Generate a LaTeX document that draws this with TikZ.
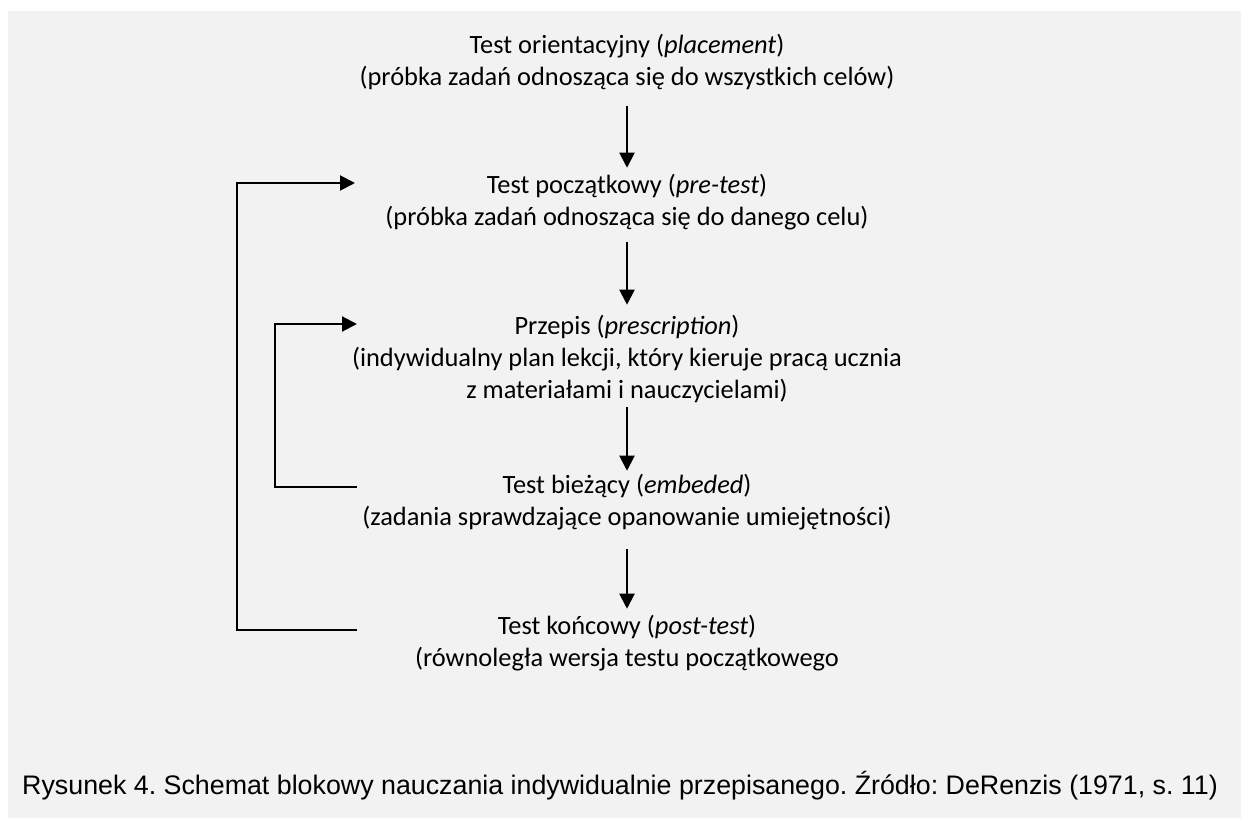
\documentclass[tikz,border=0pt]{standalone}
\usepackage{fontspec}
\setmainfont{Carlito}
\newfontfamily\capfont{Liberation Sans}
\usepackage{xcolor}
\usetikzlibrary{arrows.meta}
\definecolor{bggray}{HTML}{F2F2F2}
\frenchspacing

\begin{document}
\begin{tikzpicture}[x=1pt,y=-1pt,
  stage/.style={align=center,inner sep=0pt,font=\fontsize{26.4}{32.3}\selectfont},
  flow/.style={line width=2pt,-{Triangle[length=15pt,width=15pt]}},
  feedback/.style={line width=2pt}]
  \fill[white] (0,0) rectangle (1241,818);
  \fill[bggray] (8,11) rectangle (1241,818);
  % etapy
  \node[stage] (placement) at (627,62) {Test orientacyjny (\textit{placement})\\(próbka zadań odnosząca się do wszystkich celów)};
  \node[stage] (pretest) at (627,202) {Test początkowy (\textit{pre-test})\\(próbka zadań odnosząca się do danego celu)};
  \node[stage] (prescription) at (627,359) {Przepis (\textit{prescription})\\(indywidualny plan lekcji, który kieruje pracą ucznia\\z materiałami i nauczycielami)};
  \node[stage] (embedded) at (627,502) {Test bieżący (\textit{embeded})\\(zadania sprawdzające opanowanie umiejętności)};
  \node[stage] (posttest) at (627,643) {Test końcowy (\textit{post-test})\\(równoległa wersja testu początkowego};
  % strzałki w dół
  \draw[flow,shorten <=16pt,shorten >=6pt] (placement) -- (pretest);
  \draw[flow,shorten <=12pt,shorten >=10pt] (pretest) -- (prescription);
  \draw[flow,shorten <=4pt,shorten >=3pt] (prescription) -- (embedded);
  \draw[flow,shorten <=19pt,shorten >=6pt] (embedded) -- (posttest);
  % pętle zwrotne
  \coordinate (post-out) at (357,630);
  \coordinate (pre-in) at (355,183);
  \coordinate (emb-out) at (357,487);
  \coordinate (presc-in) at (357,324);
  \draw[flow] (post-out) -- ++(-120,0) |- (pre-in);
  \draw[flow] (emb-out) -- ++(-82,0) |- (presc-in);
  % podpis
  \node[anchor=base west,inner sep=0pt,font=\capfont\fontsize{26.8}{30}\selectfont] (caption) at (22,794)
    {Rysunek 4. Schemat blokowy nauczania indywidualnie przepisanego. Źródło: DeRenzis (1971, s. 11)};
\end{tikzpicture}
\end{document}
